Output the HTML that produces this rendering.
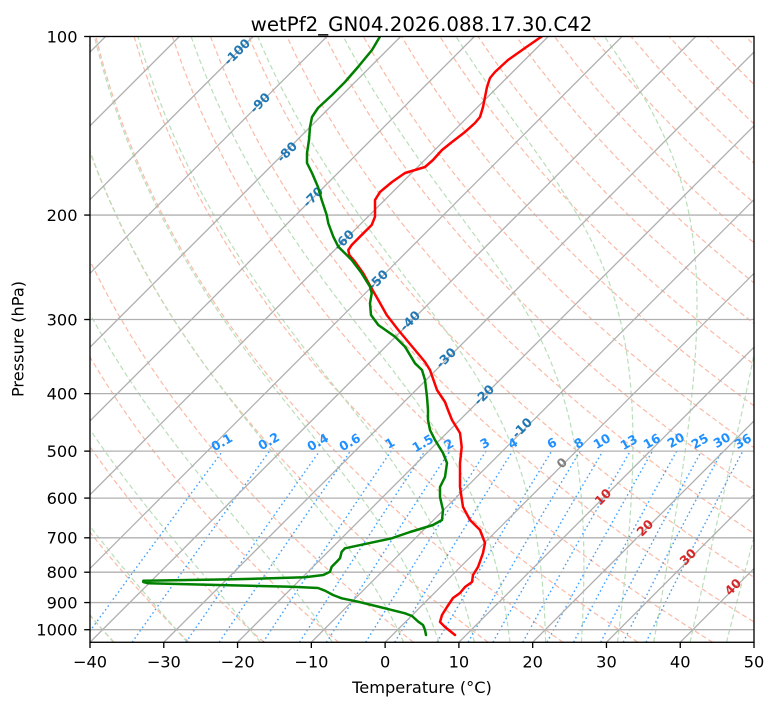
<!DOCTYPE html>
<html><head><meta charset="utf-8">
<style>
html,body{margin:0;padding:0;background:#fff;}
svg{display:block;}
text{font-family:"DejaVu Sans","Liberation Sans",sans-serif;}
.tk{font-size:16.2px;fill:#000;}
.ml{font-size:12.5px;font-weight:bold;fill:#1e90ff;}
.il{font-size:12.5px;font-weight:bold;}
</style></head>
<body>
<svg id="s" width="775" height="708" viewBox="0 0 775 708" xmlns="http://www.w3.org/2000/svg">
<defs><clipPath id="c"><rect x="90" y="36.5" width="664" height="605.77"/></clipPath></defs>
<rect width="775" height="708" fill="#fff"/>
<g clip-path="url(#c)">
 <g id="bg"></g>
 <g stroke="#b0b0b0" stroke-width="1.3" fill="none">
  <line x1="-500.24" y1="642.27" x2="105.53" y2="36.5"/>
  <line x1="-426.46" y1="642.27" x2="179.31" y2="36.5"/>
  <line x1="-352.68" y1="642.27" x2="253.09" y2="36.5"/>
  <line x1="-278.9" y1="642.27" x2="326.87" y2="36.5"/>
  <line x1="-205.12" y1="642.27" x2="400.65" y2="36.5"/>
  <line x1="-131.34" y1="642.27" x2="474.43" y2="36.5"/>
  <line x1="-57.56" y1="642.27" x2="548.21" y2="36.5"/>
  <line x1="16.22" y1="642.27" x2="621.99" y2="36.5"/>
  <line x1="90" y1="642.27" x2="695.77" y2="36.5"/>
  <line x1="163.78" y1="642.27" x2="769.55" y2="36.5"/>
  <line x1="237.56" y1="642.27" x2="843.33" y2="36.5"/>
  <line x1="311.34" y1="642.27" x2="917.11" y2="36.5"/>
  <line x1="385.12" y1="642.27" x2="990.89" y2="36.5"/>
  <line x1="458.9" y1="642.27" x2="1064.67" y2="36.5"/>
  <line x1="532.68" y1="642.27" x2="1138.45" y2="36.5"/>
  <line x1="606.46" y1="642.27" x2="1212.23" y2="36.5"/>
  <line x1="680.24" y1="642.27" x2="1286.01" y2="36.5"/>
  <line x1="90" y1="215.07" x2="754" y2="215.07"/>
  <line x1="90" y1="319.53" x2="754" y2="319.53"/>
  <line x1="90" y1="393.64" x2="754" y2="393.64"/>
  <line x1="90" y1="451.13" x2="754" y2="451.13"/>
  <line x1="90" y1="498.1" x2="754" y2="498.1"/>
  <line x1="90" y1="537.81" x2="754" y2="537.81"/>
  <line x1="90" y1="572.21" x2="754" y2="572.21"/>
  <line x1="90" y1="602.56" x2="754" y2="602.56"/>
  <line x1="90" y1="629.7" x2="754" y2="629.7"/>
 </g>
 <!-- mixing ratio labels -->
 <g>
  <text class="ml" transform="translate(224,446) rotate(-30)" text-anchor="middle">0.1</text>
  <text class="ml" transform="translate(271,445) rotate(-30)" text-anchor="middle">0.2</text>
  <text class="ml" transform="translate(320,446) rotate(-30)" text-anchor="middle">0.4</text>
  <text class="ml" transform="translate(352,446) rotate(-30)" text-anchor="middle">0.6</text>
  <text class="ml" transform="translate(392,447) rotate(-30)" text-anchor="middle">1</text>
  <text class="ml" transform="translate(425,447) rotate(-30)" text-anchor="middle">1.5</text>
  <text class="ml" transform="translate(451,448) rotate(-30)" text-anchor="middle">2</text>
  <text class="ml" transform="translate(487,447) rotate(-30)" text-anchor="middle">3</text>
  <text class="ml" transform="translate(515,447) rotate(-30)" text-anchor="middle">4</text>
  <text class="ml" transform="translate(554,447) rotate(-30)" text-anchor="middle">6</text>
  <text class="ml" transform="translate(581,447) rotate(-30)" text-anchor="middle">8</text>
  <text class="ml" transform="translate(604,445) rotate(-30)" text-anchor="middle">10</text>
  <text class="ml" transform="translate(631,446) rotate(-30)" text-anchor="middle">13</text>
  <text class="ml" transform="translate(654,445) rotate(-30)" text-anchor="middle">16</text>
  <text class="ml" transform="translate(678,444) rotate(-30)" text-anchor="middle">20</text>
  <text class="ml" transform="translate(702,445) rotate(-30)" text-anchor="middle">25</text>
  <text class="ml" transform="translate(724,444) rotate(-30)" text-anchor="middle">30</text>
  <text class="ml" transform="translate(745,445) rotate(-30)" text-anchor="middle">36</text>
 </g>
 <!-- isotherm labels -->
 <g>
  <text class="il" fill="#1f77b4" transform="translate(240,55) rotate(-45)" text-anchor="middle">-100</text>
  <text class="il" fill="#1f77b4" transform="translate(263,106) rotate(-45)" text-anchor="middle">-90</text>
  <text class="il" fill="#1f77b4" transform="translate(290,155) rotate(-45)" text-anchor="middle">-80</text>
  <text class="il" fill="#1f77b4" transform="translate(316,200) rotate(-45)" text-anchor="middle">-70</text>
  <text class="il" fill="#1f77b4" transform="translate(347,243) rotate(-45)" text-anchor="middle">-60</text>
  <text class="il" fill="#1f77b4" transform="translate(381,283) rotate(-45)" text-anchor="middle">-50</text>
  <text class="il" fill="#1f77b4" transform="translate(413,324) rotate(-45)" text-anchor="middle">-40</text>
  <text class="il" fill="#1f77b4" transform="translate(449,361) rotate(-45)" text-anchor="middle">-30</text>
  <text class="il" fill="#1f77b4" transform="translate(487,398) rotate(-45)" text-anchor="middle">-20</text>
  <text class="il" fill="#1f77b4" transform="translate(525,431) rotate(-45)" text-anchor="middle">-10</text>
  <text class="il" fill="#808080" transform="translate(565,466) rotate(-45)" text-anchor="middle">0</text>
  <text class="il" fill="#d62728" transform="translate(606,500) rotate(-45)" text-anchor="middle">10</text>
  <text class="il" fill="#d62728" transform="translate(648,531) rotate(-45)" text-anchor="middle">20</text>
  <text class="il" fill="#d62728" transform="translate(691,560) rotate(-45)" text-anchor="middle">30</text>
  <text class="il" fill="#d62728" transform="translate(736,590) rotate(-45)" text-anchor="middle">40</text>
 </g>
 <!-- temperature -->
 <polyline fill="none" stroke="#ff0000" stroke-width="2.5" stroke-linejoin="round" stroke-linecap="round" points="541.7,36.5 525,48 508,60 495,72 490,78 487,87 485,97 483,107 480,117 475,123 465,132 452,142 442,150 433,160 425,167 415,170 405,173 392,182 380,192 375,200 375,216.7 371.7,225 363.3,233.3 351.7,245 348.3,250 349.3,255 355,261.7 363.3,273.3 371,287.3 378.3,300 386.7,315 398.3,330 415,350 425,362 430,370 437,390 445,402 448,410 452,420 460,433 461.7,447 460,463 460,487 463,507 470,520 480,530 485,543 483,553 478,567 473,575 472,582 465,587 460,593 453,598 447,607 442,615 440,622 445,627 455,635"/>
 <!-- dewpoint -->
 <polyline fill="none" stroke="#008000" stroke-width="2.5" stroke-linejoin="round" stroke-linecap="round" points="380,36.5 372,50 358,67 345,82 332,95 318,108 312,117 310,127 309,140 307,153 307,163 312,173 318,187 321.7,200 326.7,215 328.3,223.3 333.3,236.7 338.3,246.7 346.7,255 351.7,260 361.7,273.3 370,286.7 371.7,293.3 370,303.3 371,315 378.3,325 395,336.7 405,346.7 415,363.3 422,370 425,380 427,397 428,410 428,420 430,430 435,440 443,453 447,463 445,477 440,487 440,497 443,510 442,520 433,525 420,529 410,532 391.7,538.3 345,548.3 341.7,551.7 340,558.3 336.7,561.7 331.7,566.7 330,571.7 323.3,575 305,577.3 235,579.3 143.3,580.7 143.3,582 148.3,583.3 218,585 291.7,586.7 318,588 325,590.7 333,595 341.7,598.3 358,601.7 385,608.3 405,613.3 412,616 418.3,621.7 423,625 425,630 426,635"/>
</g>
<!-- spines -->
<rect x="90" y="36.5" width="664" height="605.77" fill="none" stroke="#000" stroke-width="1.33"/>
<!-- ticks -->
<g stroke="#000" stroke-width="1.33">
 <line x1="84.2" y1="36.5" x2="90" y2="36.5"/>
 <line x1="84.2" y1="215.07" x2="90" y2="215.07"/>
 <line x1="84.2" y1="319.53" x2="90" y2="319.53"/>
 <line x1="84.2" y1="393.64" x2="90" y2="393.64"/>
 <line x1="84.2" y1="451.13" x2="90" y2="451.13"/>
 <line x1="84.2" y1="498.1" x2="90" y2="498.1"/>
 <line x1="84.2" y1="537.81" x2="90" y2="537.81"/>
 <line x1="84.2" y1="572.21" x2="90" y2="572.21"/>
 <line x1="84.2" y1="602.56" x2="90" y2="602.56"/>
 <line x1="84.2" y1="629.7" x2="90" y2="629.7"/>
 <line x1="90" y1="642.27" x2="90" y2="648"/>
 <line x1="163.78" y1="642.27" x2="163.78" y2="648"/>
 <line x1="237.56" y1="642.27" x2="237.56" y2="648"/>
 <line x1="311.34" y1="642.27" x2="311.34" y2="648"/>
 <line x1="385.12" y1="642.27" x2="385.12" y2="648"/>
 <line x1="458.9" y1="642.27" x2="458.9" y2="648"/>
 <line x1="532.68" y1="642.27" x2="532.68" y2="648"/>
 <line x1="606.46" y1="642.27" x2="606.46" y2="648"/>
 <line x1="680.24" y1="642.27" x2="680.24" y2="648"/>
 <line x1="754" y1="642.27" x2="754" y2="648"/>
</g>
<g text-anchor="end">
 <text class="tk" x="77.5" y="42.4">100</text>
 <text class="tk" x="77.5" y="221">200</text>
 <text class="tk" x="77.5" y="325.4">300</text>
 <text class="tk" x="77.5" y="399.5">400</text>
 <text class="tk" x="77.5" y="457">500</text>
 <text class="tk" x="77.5" y="504">600</text>
 <text class="tk" x="77.5" y="543.7">700</text>
 <text class="tk" x="77.5" y="578.1">800</text>
 <text class="tk" x="77.5" y="608.4">900</text>
 <text class="tk" x="77.5" y="635.6">1000</text>
</g>
<g text-anchor="middle">
 <text class="tk" x="90" y="667.5">−40</text>
 <text class="tk" x="163.78" y="667.5">−30</text>
 <text class="tk" x="237.56" y="667.5">−20</text>
 <text class="tk" x="311.34" y="667.5">−10</text>
 <text class="tk" x="385.12" y="667.5">0</text>
 <text class="tk" x="458.9" y="667.5">10</text>
 <text class="tk" x="532.68" y="667.5">20</text>
 <text class="tk" x="606.46" y="667.5">30</text>
 <text class="tk" x="680.24" y="667.5">40</text>
 <text class="tk" x="754" y="667.5">50</text>
 <text class="tk" x="422" y="693">Temperature (°C)</text>
 <text class="tk" transform="translate(23.5,339) rotate(-90)">Pressure (hPa)</text>
 <text x="421.5" y="31" style="font-size:19.8px;fill:#000">wetPf2_GN04.2026.088.17.30.C42</text>
</g>
</svg>
<script>
(function(){
var NS='http://www.w3.org/2000/svg';
var TOP=36.5,BOT=642.27;
function yP(p){return TOP+593.2*Math.log(p/100)/Math.LN10;}
function xT(t,p){return 90+7.378*(t+40)+(BOT-yP(p));}
var bg=document.getElementById('bg');
function addPath(d,stroke,dash,w){var e=document.createElementNS(NS,'path');e.setAttribute('d',d);e.setAttribute('fill','none');e.setAttribute('stroke',stroke);e.setAttribute('stroke-width',w);e.setAttribute('stroke-dasharray',dash);bg.appendChild(e);}
var d='';
for(var t0=-40;t0<=250;t0+=10){var th=t0+273.15;for(var i=0;i<=80;i++){var p=1050-950*i/80;var t=th*Math.pow(p/1000,0.28571)-273.15;d+=(i?'L':'M')+xT(t,p).toFixed(1)+' '+yP(p).toFixed(1);}}
addPath(d,'rgb(250,186,166)','5 3',1.2);
function es(T){return 6.112*Math.exp(17.67*(T-273.15)/(T-29.65));}
function f(p,T){var e=es(T);var rs=0.62196*e/(p-e);return (287.04749*T+2.50084e6*rs)/(1004.6662+2.50084e6*2.50084e6*rs*0.62196/(287.04749*T*T))/p;}
function integ(T,p0,p1,h){var pts=[[p0,T]];var p=p0;var n=Math.round((p1-p0)/h);for(var i=0;i<n;i++){var k1=f(p,T),k2=f(p+h/2,T+h/2*k1),k3=f(p+h/2,T+h/2*k2),k4=f(p+h,T+h*k3);T+=h/6*(k1+2*k2+2*k3+k4);p+=h;pts.push([p,T]);}return pts;}
var m='';
var t0s=[-40,-30,-20,-10];for(var q=0;q<=50;q+=5)t0s.push(q);
t0s.forEach(function(t0){var up=integ(t0+273.15,1000,100,-2);var dn=integ(t0+273.15,1000,1050,2);var pts=dn.reverse().concat(up.slice(1));var s='';pts.forEach(function(a,i){s+=(i?'L':'M')+xT(a[1]-273.15,a[0]).toFixed(1)+' '+yP(a[0]).toFixed(1);});m+=s;});
addPath(m,'rgb(185,222,185)','5 3',1.2);
var ws=[0.1,0.2,0.4,0.6,1,1.5,2,3,4,6,8,10,13,16,20,25,30,36];
var mr='';
ws.forEach(function(w){w=w/1000;var s='';for(var i=0;i<=40;i++){var p=1050-550*i/40;var e=p*w/(0.6219569+w);var l=Math.log(e/6.112);var td=243.5*l/(17.67-l);s+=(i?'L':'M')+xT(td,p).toFixed(1)+' '+yP(p).toFixed(1);}mr+=s;});
addPath(mr,'rgba(30,144,255,0.85)','1.6 2.8',1.4);
})();
</script>
</body></html>
